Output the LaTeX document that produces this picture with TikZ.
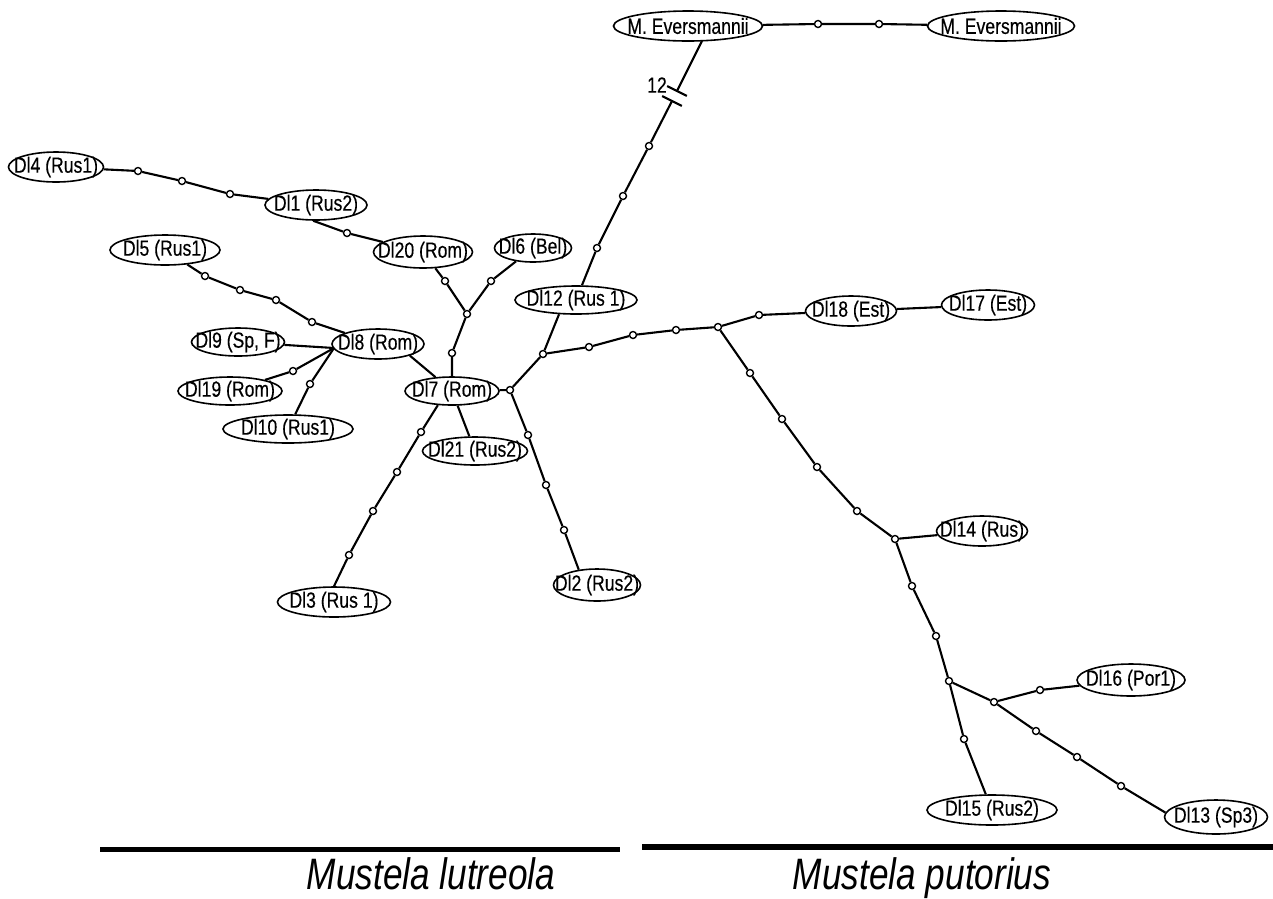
\documentclass[tikz,border=0pt]{standalone}
\usepackage{fontspec}
\setmainfont{Liberation Sans}
\newfontfamily\labfont[FakeStretch=0.8,FakeBold=0.3]{Liberation Sans}
\newfontfamily\specfont[FakeStretch=0.8]{Liberation Sans}
\usetikzlibrary{shapes.geometric,calc}
\begin{document}
\begin{tikzpicture}[x=1pt,y=-1pt,
  hap/.style={ellipse,draw,line width=1.6pt,inner xsep=-40pt,inner ysep=-15pt,minimum height=30pt,font=\labfont\fontsize{22}{24}\selectfont},
  dot/.style={circle,draw,fill=white,line width=1.4pt,minimum size=7pt,inner sep=0pt},
  link/.style={line width=2.1pt},
  species/.style={font=\specfont\fontsize{44}{48}\selectfont\itshape,anchor=base,inner sep=0pt}]
\useasboundingbox (0,0) rectangle (1273,898);
% haplotypes
\node[hap,minimum width=149pt] (MEvL) at (688,26) {M. Eversmannii};
\node[hap,minimum width=147pt] (MEvR) at (1001,26) {M. Eversmannii};
\node[hap,minimum width=95pt] (DI4) at (56,167) {Dl4 (Rus1)};
\node[hap,minimum width=102pt] (DI1) at (316,205) {Dl1 (Rus2)};
\node[hap,minimum width=99pt,minimum height=32pt] (DI20) at (423,252) {Dl20 (Rom)};
\node[hap,minimum width=110pt] (DI5) at (165,250) {Dl5 (Rus1)};
\node[hap,minimum width=77pt,minimum height=28pt] (DI6) at (533,248) {Dl6 (Bel)};
\node[hap,minimum width=122pt,minimum height=28pt] (DI12) at (576,300) {Dl12 (Rus 1)};
\node[hap,minimum width=92pt] (DI8) at (378,344) {Dl8 (Rom)};
\node[hap,minimum width=93pt,minimum height=28pt] (DI9) at (238,342) {Dl9 (Sp, F)};
\node[hap,minimum width=104pt,minimum height=28pt] (DI19) at (230,391) {Dl19 (Rom)};
\node[hap,minimum width=130pt,minimum height=28pt] (DI10) at (288,429) {Dl10 (Rus1)};
\node[hap,minimum width=94pt,minimum height=28pt] (DI7) at (452,391) {Dl7 (Rom)};
\node[hap,minimum width=105pt,minimum height=28pt] (DI21) at (475,451) {Dl21 (Rus2)};
\node[hap,minimum width=113pt] (DI3) at (334,602) {Dl3 (Rus 1)};
\node[hap,minimum width=87pt,minimum height=32pt] (DI2) at (597,585) {Dl2 (Rus2)};
\node[hap,minimum width=91pt] (DI18) at (851,311) {Dl18 (Est)};
\node[hap,minimum width=93pt] (DI17) at (988,305) {Dl17 (Est)};
\node[hap,minimum width=91pt] (DI14) at (982,531) {Dl14 (Rus)};
\node[hap,minimum width=130pt] (DI15) at (992,810) {Dl15 (Rus2)};
\node[hap,minimum width=108pt,minimum height=32pt] (DI16) at (1131,680) {Dl16 (Por1)};
\node[hap,minimum width=103pt,minimum height=34pt] (DI13) at (1216,817) {Dl13 (Sp3)};
% median / missing-step dots
\node[dot] (e1) at (818,24) {};
\node[dot] (e2) at (879,24) {};
\node[dot] (m1) at (649,146) {};
\node[dot] (m2) at (623,196) {};
\node[dot] (m3) at (597,248) {};
\node[dot] (a1) at (138,171) {};
\node[dot] (a2) at (182,181) {};
\node[dot] (a3) at (230,194) {};
\node[dot] (a4) at (347,233) {};
\node[dot] (f1) at (205,276) {};
\node[dot] (f2) at (240,290) {};
\node[dot] (f3) at (276,300) {};
\node[dot] (f4) at (312,322) {};
\node[dot] (g1) at (293,371) {};
\node[dot] (g2) at (310,384) {};
\coordinate (j8) at (334,348);
\node[dot] (h1) at (445,281) {};
\node[dot] (h2) at (491,281) {};
\node[dot] (J1) at (467,314) {};
\node[dot] (h3) at (452,353) {};
\node[dot] (J2) at (510,390) {};
\node[dot] (J3) at (543,354) {};
\node[dot] (k1) at (589,347) {};
\node[dot] (k2) at (633,335) {};
\node[dot] (k3) at (676,330) {};
\node[dot] (J4) at (718,327) {};
\node[dot] (k4) at (759,315) {};
\node[dot] (n1) at (750,373) {};
\node[dot] (n2) at (782,419) {};
\node[dot] (n3) at (817,467) {};
\node[dot] (n4) at (857,511) {};
\node[dot] (J5) at (895,539) {};
\node[dot] (p1) at (912,586) {};
\node[dot] (p2) at (936,636) {};
\node[dot] (J6) at (949,681) {};
\node[dot] (p3) at (964,739) {};
\node[dot] (J7) at (994,702) {};
\node[dot] (q1) at (1040,690) {};
\node[dot] (r1) at (1036,731) {};
\node[dot] (r2) at (1077,757) {};
\node[dot] (r3) at (1121,786) {};
\node[dot] (s1) at (421,432) {};
\node[dot] (s2) at (397,472) {};
\node[dot] (s3) at (373,511) {};
\node[dot] (s4) at (349,555) {};
\node[dot] (t1) at (528,435) {};
\node[dot] (t2) at (546,485) {};
\node[dot] (t3) at (564,530) {};
% break on the long branch
\coordinate (ev) at (702,41);
\coordinate (b1) at (677,91);
\coordinate (b2) at (672,101);
\node[font=\labfont\fontsize{22}{24}\selectfont,inner sep=0pt] (lab12) at (657,85) {12};
% connectors
\draw[link] (MEvL) -- (e1) -- (e2) -- (MEvR);
\draw[link] (ev) -- (b1);
\draw[link] ($(b1)!11pt!90:(ev)$) -- ($(b1)!11pt!-90:(ev)$);
\draw[link] ($(b2)!11pt!90:(ev)$) -- ($(b2)!11pt!-90:(ev)$);
\draw[link] (b2) -- (m1) -- (m2) -- (m3) -- (DI12);
\draw[link] (DI4) -- (a1) -- (a2) -- (a3) -- (DI1);
\draw[link] (DI1.-100) -- (a4) -- (DI20);
\draw[link] (DI5) -- (f1) -- (f2) -- (f3) -- (f4) -- (DI8);
\draw[link] (DI9) -- (j8);
\draw[link] (DI19) -- (g1) -- (j8);
\draw[link] (DI10) -- (g2) -- (j8);
\draw[link] (DI8.-20) -- (DI7);
\draw[link] (DI20) -- (h1) -- (J1);
\draw[link] (DI6) -- (h2) -- (J1);
\draw[link] (J1) -- (h3) -- (DI7);
\draw[link] (DI7) -- (J2) -- (J3) -- (DI12.-140);
\draw[link] (J3) -- (k1) -- (k2) -- (k3) -- (J4) -- (k4) -- (DI18);
\draw[link] (DI18) -- (DI17);
\draw[link] (J4) -- (n1) -- (n2) -- (n3) -- (n4) -- (J5) -- (DI14);
\draw[link] (J5) -- (p1) -- (p2) -- (J6) -- (p3) -- (DI15);
\draw[link] (J6) -- (J7) -- (q1) -- (DI16);
\draw[link] (J7) -- (r1) -- (r2) -- (r3) -- (DI13.175);
\draw[link] (DI7) -- (DI21);
\draw[link] (DI7.-135) -- (s1) -- (s2) -- (s3) -- (s4) -- (DI3.north);
\draw[link] (J2) -- (t1) -- (t2) -- (t3) -- (DI2.140);
% species bars and names
\fill (100,846.5) rectangle (620,851.5);
\fill (642,844) rectangle (1273,850);
\node[species] (lut) at (431,889) {Mustela lutreola};
\node[species] (put) at (922,889) {Mustela putorius};
\end{tikzpicture}
\end{document}
